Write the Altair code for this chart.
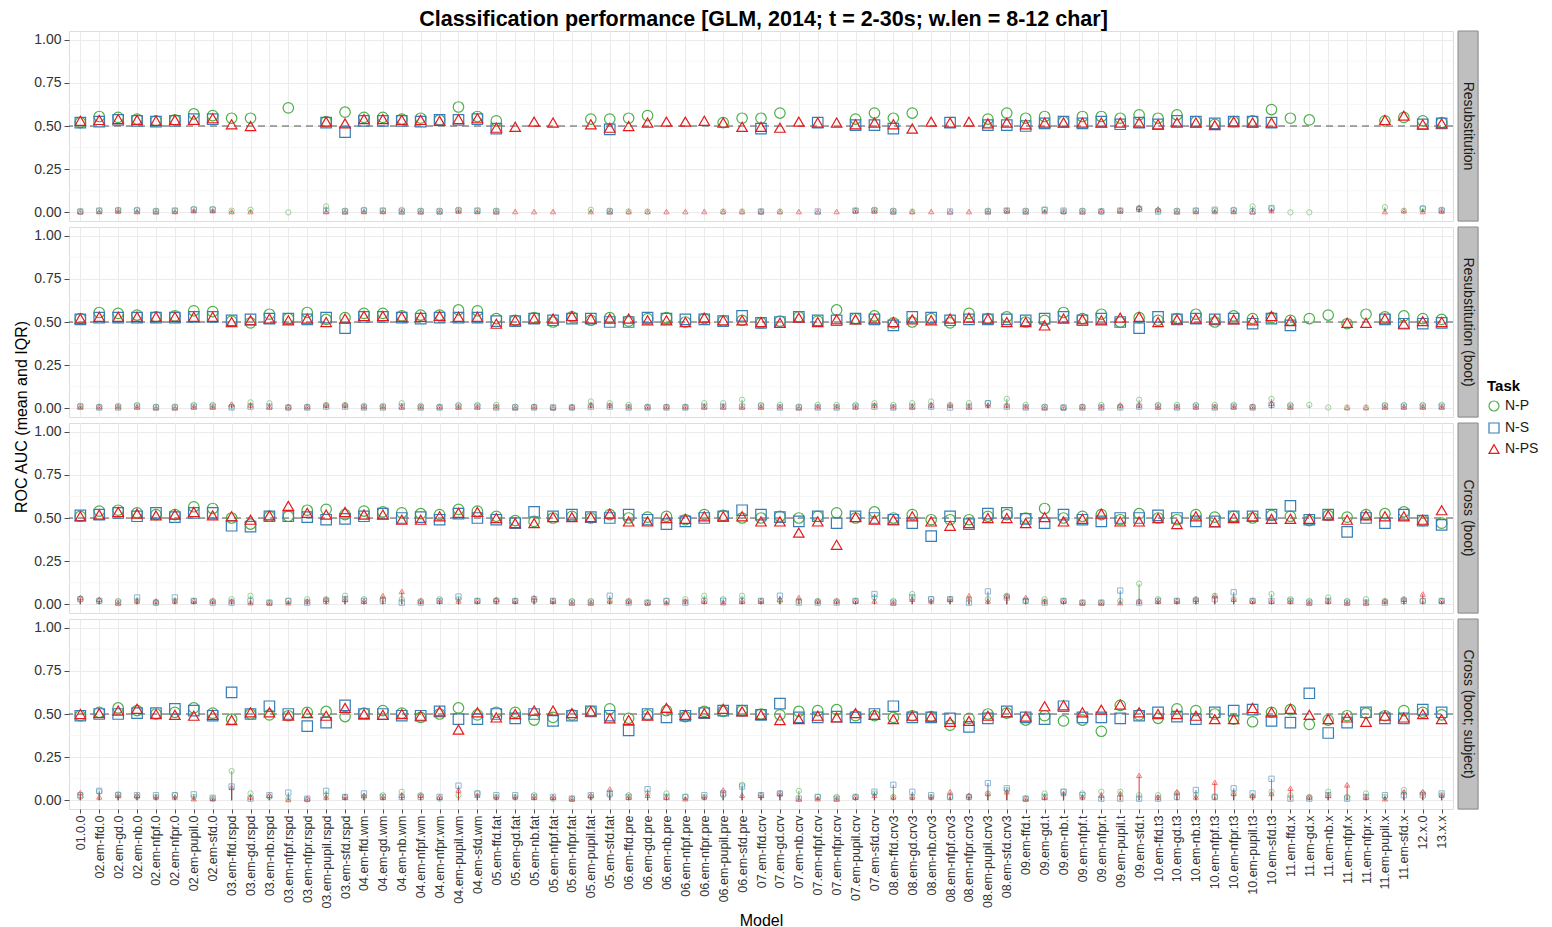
import altair as alt
import pandas as pd

models = [
    "01.0.0",
    "02.em-ffd.0", "02.em-gd.0", "02.em-nb.0", "02.em-nfpf.0", "02.em-nfpr.0", "02.em-pupil.0", "02.em-sfd.0",
    "03.em-ffd.rspd", "03.em-gd.rspd", "03.em-nb.rspd", "03.em-nfpf.rspd", "03.em-nfpr.rspd", "03.em-pupil.rspd", "03.em-sfd.rspd",
    "04.em-ffd.wm", "04.em-gd.wm", "04.em-nb.wm", "04.em-nfpf.wm", "04.em-nfpr.wm", "04.em-pupil.wm", "04.em-sfd.wm",
    "05.em-ffd.fat", "05.em-gd.fat", "05.em-nb.fat", "05.em-nfpf.fat", "05.em-nfpr.fat", "05.em-pupil.fat", "05.em-sfd.fat",
    "06.em-ffd.pre", "06.em-gd.pre", "06.em-nb.pre", "06.em-nfpf.pre", "06.em-nfpr.pre", "06.em-pupil.pre", "06.em-sfd.pre",
    "07.em-ffd.crv", "07.em-gd.crv", "07.em-nb.crv", "07.em-nfpf.crv", "07.em-nfpr.crv", "07.em-pupil.crv", "07.em-sfd.crv",
    "08.em-ffd.crv3", "08.em-gd.crv3", "08.em-nb.crv3", "08.em-nfpf.crv3", "08.em-nfpr.crv3", "08.em-pupil.crv3", "08.em-sfd.crv3",
    "09.em-ffd.t", "09.em-gd.t", "09.em-nb.t", "09.em-nfpf.t", "09.em-nfpr.t", "09.em-pupil.t", "09.em-sfd.t",
    "10.em-ffd.t3", "10.em-gd.t3", "10.em-nb.t3", "10.em-nfpf.t3", "10.em-nfpr.t3", "10.em-pupil.t3", "10.em-sfd.t3",
    "11.em-ffd.x", "11.em-gd.x", "11.em-nb.x", "11.em-nfpf.x", "11.em-nfpr.x", "11.em-pupil.x", "11.em-sfd.x",
    "12.x.0", "13.x.x",
]
tasks = ["N-P", "N-S", "N-PS"]
panels = ["Resubstitution", "Resubstitution (boot)", "Cross (boot)", "Cross (boot; subject)"]
N = None

# ---- Resubstitution ----
p1_P = [0.52,0.555,0.55,0.54,0.53,0.535,0.57,0.56,0.545,0.545,N,0.605,N,0.525,0.58,0.55,0.55,0.54,0.545,0.535,0.61,0.555,0.53,N,N,N,N,0.54,0.54,0.545,0.56,N,N,N,0.52,0.545,0.545,0.575,N,N,N,0.54,0.575,0.545,0.575,N,N,N,0.54,0.575,0.545,0.555,0.525,0.555,0.555,0.545,0.565,0.545,0.565,0.525,0.51,0.525,0.53,0.595,0.545,0.535,N,N,N,0.53,0.55,0.53,0.52]
p1_S = [0.52,0.525,0.535,0.53,0.525,0.53,0.54,0.54,N,N,N,N,N,0.52,0.465,0.53,0.53,0.53,0.525,0.535,0.535,0.54,0.485,N,N,N,N,N,0.48,N,N,N,N,N,N,N,0.485,N,N,0.52,N,0.505,0.505,0.485,N,N,0.52,N,0.505,0.505,0.50,0.515,0.525,0.515,0.525,0.51,0.52,0.51,0.53,0.525,0.515,0.525,0.525,0.52,N,N,N,N,N,N,N,0.51,0.515]
p1_PS = [0.53,0.535,0.54,0.535,0.53,0.535,0.535,0.545,0.51,0.50,N,N,N,0.525,0.515,0.54,0.54,0.535,0.535,0.53,0.54,0.545,0.49,0.495,0.525,0.52,N,0.51,0.49,0.50,0.52,0.525,0.525,0.53,0.52,0.495,0.495,0.49,0.525,0.52,0.52,0.51,0.52,0.51,0.485,0.525,0.52,0.525,0.515,0.52,0.51,0.52,0.52,0.52,0.52,0.52,0.52,0.51,0.52,0.52,0.505,0.525,0.52,0.52,N,N,N,N,N,0.535,0.56,0.51,0.515]
p1_P_iqr = [0.005,0.01,0.015,0.015,0.01,0.01,0.02,0.02,0.01,0.015,0,0.0,0,0.035,0.01,0.015,0.01,0.015,0.01,0.01,0.015,0.01,0.01,0,0,0,0,0.015,0.01,0.005,0.005,0,0,0,0.005,0.005,0.005,0.005,0,0,0,0.01,0.015,0.01,0.005,0,0,0,0.01,0.01,0.01,0.015,0.005,0.01,0.005,0.01,0.02,0.01,0.01,0.01,0.01,0.015,0.035,0.02,0.0,0.0,0,0,0,0.03,0.01,0.025,0.015]
p1_S_iqr = [0.005,0.01,0.01,0.01,0.005,0.01,0.015,0.015,0,0,0,0,0,0.01,0.005,0.01,0.01,0.005,0.005,0.005,0.01,0.01,0.005,0,0,0,0,0,0.005,0,0,0,0,0,0,0,0.005,0,0,0.005,0,0.01,0.01,0.005,0,0,0.005,0,0.005,0.01,0.005,0.015,0.01,0.005,0.005,0.01,0.02,0.005,0.005,0.01,0.015,0.01,0.005,0.025,0,0,0,0,0,0,0,0.02,0.01]
p1_PS_iqr = [0.005,0.005,0.01,0.005,0.005,0.005,0.01,0.01,0.005,0.005,0,0,0,0.005,0.005,0.005,0.005,0.005,0.005,0.005,0.01,0.005,0.005,0.005,0.005,0.005,0,0.005,0.005,0.005,0.005,0.005,0.005,0.005,0.005,0.005,0.005,0.005,0.005,0.005,0.005,0.01,0.01,0.005,0.005,0.005,0.005,0.005,0.005,0.01,0.005,0.005,0.005,0.005,0.01,0.01,0.03,0.02,0.005,0.005,0.005,0.005,0.005,0.01,0,0,0,0,0,0.005,0.01,0.005,0.01]

# ---- Resubstitution (boot) ----
p2_P = [0.52,0.555,0.55,0.54,0.53,0.535,0.565,0.56,0.505,0.495,0.545,0.52,0.555,0.515,0.525,0.55,0.55,0.535,0.54,0.54,0.57,0.565,0.52,0.51,0.525,0.50,0.53,0.51,0.525,0.505,0.52,0.525,0.50,0.52,0.505,0.51,0.495,0.505,0.53,0.505,0.57,0.52,0.535,0.495,0.50,0.52,0.495,0.55,0.52,0.53,0.50,0.51,0.555,0.52,0.545,0.50,0.525,0.51,0.52,0.545,0.50,0.535,0.52,0.525,0.51,0.52,0.54,0.49,0.545,0.53,0.535,0.52,0.515]
p2_S = [0.515,0.525,0.525,0.525,0.525,0.525,0.53,0.53,0.51,0.515,0.52,0.52,0.515,0.525,0.465,0.53,0.53,0.525,0.52,0.525,0.525,0.525,0.505,0.505,0.52,0.51,0.52,0.52,0.50,0.50,0.525,0.52,0.515,0.515,0.505,0.535,0.495,0.50,0.53,0.51,0.51,0.52,0.515,0.48,0.53,0.525,0.51,0.515,0.515,0.515,0.51,0.52,0.53,0.51,0.52,0.50,0.465,0.53,0.515,0.52,0.515,0.52,0.49,0.52,0.48,N,N,N,N,0.515,0.49,0.49,0.495]
p2_PS = [0.52,0.53,0.53,0.53,0.53,0.53,0.53,0.53,0.50,0.51,0.52,0.51,0.52,0.50,0.52,0.535,0.535,0.53,0.53,0.535,0.53,0.53,0.49,0.51,0.52,0.52,0.535,0.52,0.52,0.52,0.51,0.51,0.50,0.525,0.51,0.51,0.50,0.495,0.525,0.50,0.515,0.515,0.52,0.50,0.515,0.51,0.52,0.525,0.52,0.50,0.50,0.48,0.52,0.515,0.51,0.525,0.53,0.50,0.515,0.52,0.515,0.515,0.51,0.535,0.505,N,N,0.495,0.495,0.52,0.49,0.505,0.50]
p2_P_iqr = [0.015,0.01,0.015,0.02,0.01,0.01,0.02,0.02,0.01,0.035,0.03,0.005,0.01,0.02,0.02,0.015,0.015,0.03,0.015,0.01,0.02,0.02,0.02,0.01,0.01,0.005,0.005,0.04,0.03,0.02,0.01,0.01,0.01,0.03,0.03,0.05,0.02,0.02,0.01,0.02,0.02,0.02,0.03,0.02,0.03,0.04,0.02,0.03,0.03,0.055,0.02,0.01,0.005,0.01,0.02,0.01,0.05,0.02,0.02,0.02,0.02,0.02,0.01,0.055,0.02,0.02,0.005,0.005,0.005,0.02,0.02,0.02,0.02]
p2_S_iqr = [0.01,0.005,0.005,0.01,0.005,0.005,0.01,0.01,0.005,0.01,0.01,0.005,0.005,0.01,0.01,0.005,0.005,0.01,0.005,0.005,0.01,0.01,0.005,0.005,0.005,0.005,0.005,0.01,0.01,0.005,0.005,0.005,0.005,0.01,0.01,0.01,0.01,0.005,0.005,0.005,0.005,0.01,0.01,0.005,0.01,0.01,0.005,0.01,0.03,0.01,0.005,0.005,0.005,0.005,0.005,0.005,0.01,0.01,0.005,0.01,0.005,0.01,0.005,0.02,0.01,0,0,0,0,0.01,0.01,0.01,0.01]
p2_PS_iqr = [0.01,0.01,0.01,0.01,0.005,0.005,0.01,0.01,0.025,0.02,0.01,0.01,0.01,0.02,0.02,0.01,0.01,0.01,0.01,0.01,0.01,0.01,0.01,0.005,0.01,0.005,0.01,0.02,0.02,0.01,0.01,0.01,0.01,0.01,0.01,0.01,0.01,0.01,0.005,0.01,0.01,0.01,0.02,0.01,0.01,0.02,0.02,0.01,0.02,0.02,0.01,0.005,0.005,0.01,0.01,0.02,0.02,0.01,0.01,0.01,0.01,0.01,0.01,0.03,0.01,0,0,0.005,0.005,0.01,0.01,0.01,0.01]

# ---- Cross (boot) ----
p3_P = [0.51,0.54,0.545,0.53,0.52,0.52,0.565,0.555,0.50,0.465,0.51,0.51,0.545,0.55,0.52,0.54,0.535,0.53,0.525,0.52,0.55,0.54,0.51,0.485,0.48,0.50,0.51,0.50,0.52,0.50,0.505,0.51,0.49,0.52,0.515,0.50,0.50,0.51,0.50,0.51,0.53,0.50,0.535,0.50,0.52,0.49,0.49,0.49,0.51,0.52,0.50,0.555,0.50,0.51,0.52,0.49,0.525,0.50,0.49,0.52,0.505,0.51,0.50,0.515,0.51,0.485,0.515,0.505,0.52,0.525,0.535,0.485,0.47]
p3_S = [0.515,0.52,0.53,0.51,0.53,0.505,0.53,0.53,0.455,0.45,0.51,0.51,0.505,0.49,0.495,0.51,0.525,0.50,0.505,0.49,0.525,0.50,0.49,0.47,0.535,0.51,0.52,0.505,0.50,0.52,0.49,0.465,0.48,0.50,0.51,0.545,0.52,0.505,0.48,0.51,0.47,0.51,0.50,0.49,0.47,0.395,0.51,0.465,0.525,0.53,0.495,0.47,0.52,0.49,0.48,0.50,0.50,0.515,0.50,0.48,0.48,0.51,0.51,0.52,0.57,0.49,0.52,0.42,0.50,0.47,0.52,0.485,0.46]
p3_PS = [0.51,0.52,0.535,0.525,0.515,0.52,0.535,0.515,0.51,0.49,0.515,0.57,0.53,0.52,0.535,0.52,0.52,0.49,0.49,0.51,0.53,0.535,0.50,0.47,0.47,0.505,0.505,0.505,0.525,0.48,0.48,0.50,0.495,0.51,0.51,0.51,0.48,0.48,0.415,0.48,0.345,0.505,0.49,0.49,0.51,0.48,0.455,0.47,0.50,0.50,0.47,0.505,0.48,0.495,0.525,0.48,0.48,0.50,0.465,0.51,0.475,0.50,0.51,0.495,0.495,0.495,0.515,0.49,0.515,0.51,0.51,0.49,0.545]
p3_P_iqr = [0.03,0.02,0.02,0.02,0.01,0.02,0.02,0.02,0.03,0.05,0.01,0.02,0.03,0.03,0.05,0.03,0.03,0.03,0.02,0.03,0.03,0.02,0.02,0.02,0.02,0.02,0.02,0.02,0.02,0.02,0.01,0.02,0.03,0.05,0.03,0.05,0.02,0.02,0.02,0.02,0.02,0.02,0.04,0.02,0.06,0.03,0.03,0.03,0.03,0.05,0.02,0.03,0.02,0.01,0.01,0.02,0.12,0.03,0.02,0.03,0.05,0.03,0.02,0.06,0.03,0.02,0.04,0.02,0.03,0.02,0.03,0.02,0.02]
p3_S_iqr = [0.03,0.02,0.01,0.04,0.01,0.04,0.02,0.01,0.01,0.02,0.01,0.02,0.01,0.02,0.03,0.02,0.02,0.01,0.01,0.02,0.045,0.02,0.02,0.02,0.03,0.02,0.01,0.01,0.05,0.01,0.01,0.02,0.01,0.02,0.02,0.02,0.02,0.05,0.01,0.01,0.01,0.02,0.06,0.01,0.04,0.03,0.03,0.01,0.075,0.04,0.02,0.01,0.02,0.01,0.01,0.08,0.01,0.02,0.02,0.02,0.03,0.07,0.02,0.02,0.02,0.01,0.02,0.01,0.01,0.01,0.02,0.02,0.02]
p3_PS_iqr = [0.04,0.03,0.01,0.02,0.02,0.02,0.02,0.02,0.02,0.01,0.01,0.01,0.02,0.03,0.03,0.02,0.05,0.075,0.02,0.02,0.02,0.02,0.03,0.02,0.04,0.02,0.01,0.01,0.02,0.02,0.01,0.01,0.02,0.02,0.01,0.02,0.02,0.03,0.04,0.02,0.02,0.02,0.02,0.01,0.03,0.02,0.03,0.05,0.02,0.05,0.04,0.02,0.02,0.01,0.01,0.01,0.02,0.02,0.02,0.03,0.05,0.03,0.02,0.02,0.02,0.01,0.02,0.01,0.01,0.02,0.03,0.06,0.02]

# ---- Cross (boot; subject) ----
p4_P = [0.49,0.51,0.535,0.52,0.50,0.51,0.535,0.505,0.47,0.50,0.495,0.49,0.51,0.515,0.485,0.505,0.52,0.505,0.48,0.50,0.535,0.495,0.51,0.51,0.465,0.48,0.495,0.515,0.53,0.475,0.495,0.52,0.485,0.515,0.515,0.52,0.50,0.495,0.515,0.52,0.525,0.49,0.49,0.48,0.49,0.485,0.435,0.475,0.50,0.505,0.465,0.49,0.46,0.465,0.40,0.55,0.495,0.475,0.53,0.52,0.50,0.47,0.455,0.51,0.525,0.44,0.465,0.49,0.505,0.49,0.52,0.51,0.495]
p4_S = [0.49,0.50,0.50,0.505,0.505,0.53,0.52,0.49,0.625,0.50,0.545,0.50,0.43,0.45,0.55,0.50,0.50,0.49,0.49,0.515,0.47,0.47,0.50,0.475,0.50,0.46,0.49,0.515,0.49,0.405,0.50,0.48,0.49,0.505,0.52,0.52,0.495,0.56,0.48,0.48,0.485,0.48,0.50,0.545,0.48,0.48,0.475,0.425,0.475,0.515,0.48,0.47,0.545,0.48,0.48,0.475,0.49,0.51,0.485,0.47,0.51,0.52,0.525,0.46,0.45,0.62,0.39,0.45,0.51,0.475,0.475,0.525,0.51]
p4_PS = [0.50,0.505,0.52,0.53,0.50,0.495,0.49,0.495,0.465,0.51,0.51,0.49,0.505,0.49,0.535,0.50,0.495,0.50,0.49,0.515,0.41,0.51,0.48,0.50,0.52,0.52,0.505,0.515,0.475,0.465,0.49,0.535,0.495,0.505,0.53,0.515,0.495,0.465,0.47,0.49,0.48,0.505,0.495,0.47,0.49,0.485,0.455,0.46,0.49,0.51,0.485,0.545,0.55,0.51,0.525,0.555,0.51,0.50,0.50,0.49,0.47,0.47,0.535,0.51,0.53,0.495,0.47,0.48,0.455,0.49,0.48,0.50,0.47]
p4_P_iqr = [0.02,0.05,0.035,0.02,0.02,0.03,0.02,0.01,0.17,0.04,0.02,0.01,0.005,0.03,0.02,0.02,0.03,0.05,0.03,0.01,0.03,0.04,0.02,0.02,0.03,0.01,0.01,0.02,0.03,0.03,0.04,0.04,0.02,0.02,0.03,0.09,0.03,0.04,0.055,0.02,0.02,0.02,0.04,0.02,0.02,0.02,0.02,0.02,0.04,0.06,0.01,0.04,0.05,0.04,0.05,0.05,0.03,0.03,0.04,0.03,0.02,0.04,0.02,0.05,0.03,0.02,0.05,0.02,0.04,0.02,0.06,0.04,0.03]
p4_S_iqr = [0.03,0.055,0.03,0.03,0.03,0.03,0.035,0.015,0.08,0.01,0.03,0.045,0.01,0.055,0.02,0.04,0.02,0.02,0.02,0.02,0.085,0.04,0.03,0.03,0.02,0.02,0.01,0.03,0.04,0.02,0.065,0.02,0.02,0.03,0.04,0.08,0.03,0.04,0.01,0.02,0.01,0.02,0.05,0.09,0.05,0.03,0.02,0.02,0.1,0.07,0.01,0.02,0.05,0.03,0.01,0.01,0.01,0.01,0.02,0.06,0.02,0.07,0.04,0.125,0.01,0.01,0.03,0.01,0.02,0.03,0.03,0.03,0.04]
p4_PS_iqr = [0.045,0.02,0.03,0.03,0.02,0.02,0.01,0.01,0.075,0.02,0.03,0.005,0.01,0.02,0.02,0.03,0.02,0.03,0.03,0.02,0.06,0.03,0.02,0.02,0.02,0.02,0.01,0.03,0.065,0.02,0.03,0.02,0.01,0.02,0.06,0.03,0.03,0.04,0.01,0.01,0.01,0.02,0.03,0.02,0.02,0.02,0.05,0.03,0.04,0.05,0.01,0.02,0.04,0.02,0.03,0.04,0.145,0.02,0.05,0.02,0.105,0.04,0.03,0.04,0.07,0.02,0.03,0.09,0.02,0.01,0.05,0.05,0.03]

means = {
    panels[0]: [p1_P, p1_S, p1_PS],
    panels[1]: [p2_P, p2_S, p2_PS],
    panels[2]: [p3_P, p3_S, p3_PS],
    panels[3]: [p4_P, p4_S, p4_PS],
}
iqrs = {
    panels[0]: [p1_P_iqr, p1_S_iqr, p1_PS_iqr],
    panels[1]: [p2_P_iqr, p2_S_iqr, p2_PS_iqr],
    panels[2]: [p3_P_iqr, p3_S_iqr, p3_PS_iqr],
    panels[3]: [p4_P_iqr, p4_S_iqr, p4_PS_iqr],
}

rows = []
for panel in panels:
    for ti, task in enumerate(tasks):
        m = means[panel][ti]
        q = iqrs[panel][ti]
        for i, model in enumerate(models):
            if m[i] is None:
                continue
            rows.append({"panel": panel, "task": task, "model": model,
                         "mean": m[i], "iqr": q[i], "zero": 0.0})
df = pd.DataFrame(rows)

minor_df = pd.DataFrame({"v": [0.125, 0.375, 0.625, 0.875]})
ref_df = pd.DataFrame({"v": [0.5]})

FONT = "Liberation Sans"
W, H, GAP = 1384, 190, 4
colors = ["#4DAF4A", "#377EB8", "#E41A1C"]
shapes = ["circle", "square", "triangle-up"]

yscale = alt.Scale(domain=[-0.05, 1.05], nice=False, zero=False)
xscale = alt.Scale(type="point", padding=0.6, domain=models)
color_scale = alt.Scale(domain=tasks, range=colors)
shape_scale = alt.Scale(domain=tasks, range=shapes)

legend = alt.Legend(title="Task", orient="none", legendX=1479, legendY=348,
                    titleFontSize=15, titleFontWeight="bold", labelFontSize=14,
                    symbolSize=100, symbolStrokeWidth=1.2, rowPadding=6, symbolOpacity=1,
                    titleColor="#000000", labelColor="#1A1A1A", titleFont=FONT, labelFont=FONT)

color_enc = alt.Color("task:N", scale=color_scale, legend=legend)
shape_enc = alt.Shape("task:N", scale=shape_scale, legend=legend)


def make_panel(idx):
    panel = panels[idx]
    d = df[df.panel == panel]
    bottom = idx == len(panels) - 1
    if bottom:
        xaxis = alt.Axis(labelAngle=-90, labelFontSize=12.5, labelColor="#333333", labelAlign="right",
                         labelBaseline="middle", title="Model", titleFontSize=16,
                         titleFontWeight="normal", titleColor="#000000", titlePadding=4,
                         grid=True, gridColor="#EBEBEB", tickColor="#4D4D4D", tickSize=4,
                         domain=False, labelPadding=2, labelFont=FONT, titleFont=FONT)
    else:
        xaxis = alt.Axis(labels=False, ticks=False, title=None, grid=True,
                         gridColor="#EBEBEB", domain=False)
    yaxis = alt.Axis(title=None, values=[0, 0.25, 0.5, 0.75, 1.0], format=".2f", grid=True,
                     gridColor="#EBEBEB", domain=False, tickColor="#4D4D4D", tickSize=5,
                     labelFontSize=14, labelColor="#333333", labelFont=FONT, labelPadding=3)

    xenc = alt.X("model:N", scale=xscale, sort=models, axis=xaxis)

    minor = alt.Chart(minor_df).mark_rule(color="#F4F4F4", strokeWidth=0.7).encode(
        y=alt.Y("v:Q", scale=yscale, axis=yaxis))
    ref = alt.Chart(ref_df).mark_rule(color="#555555", strokeDash=[7, 5], strokeWidth=1.2).encode(
        y=alt.Y("v:Q", scale=yscale, axis=yaxis))
    base = alt.Chart(d)
    iqr_rule = base.mark_rule(strokeWidth=1.1, opacity=0.75).encode(
        x=xenc,
        y=alt.Y("zero:Q", scale=yscale, axis=yaxis),
        y2="iqr:Q",
        color=color_enc,
    )
    iqr_pts = base.mark_point(size=28, strokeWidth=1, opacity=0.55, filled=False).encode(
        x=xenc,
        y=alt.Y("iqr:Q", scale=yscale, axis=yaxis),
        color=color_enc,
        shape=shape_enc,
    )
    mean_pts = base.mark_point(size=110, strokeWidth=1.2, opacity=1, filled=False).encode(
        x=xenc,
        y=alt.Y("mean:Q", scale=yscale, axis=yaxis),
        color=color_enc,
        shape=shape_enc,
    )
    plot = alt.layer(minor, ref, iqr_rule, iqr_pts, mean_pts).properties(width=W, height=H)

    strip_df = pd.DataFrame({"label": [panel]})
    strip_bg = alt.Chart(strip_df).mark_rect(color="#BFBFBF", stroke="#8C8C8C", strokeWidth=1).encode(
        x=alt.value(0), x2=alt.value(20), y=alt.value(0), y2=alt.value(H))
    strip_txt = alt.Chart(strip_df).mark_text(angle=90, fontSize=14, color="#1A1A1A", font=FONT,
                                               align="center", baseline="middle").encode(
        x=alt.value(10), y=alt.value(H / 2), text="label:N")
    strip = alt.layer(strip_bg, strip_txt).properties(width=20, height=H)
    return alt.hconcat(plot, strip, spacing=2)


block = alt.vconcat(*[make_panel(i) for i in range(len(panels))], spacing=GAP)

block_h = len(panels) * H + (len(panels) - 1) * GAP
ytitle = alt.Chart(pd.DataFrame({"t": ["ROC AUC (mean and IQR)"]})).mark_text(
    angle=270, fontSize=16, color="#000000", font=FONT, align="center", baseline="middle"
).encode(x=alt.value(14), y=alt.value(block_h / 2), text="t:N").properties(
    width=20, height=block_h, view=alt.ViewBackground(strokeOpacity=0))

chart = alt.hconcat(ytitle, block, spacing=3).resolve_scale(
    color="shared", shape="shared"
).properties(
    title=alt.TitleParams("Classification performance [GLM, 2014; t = 2-30s; w.len = 8-12 char]",
                          fontSize=21.5, fontWeight="bold", anchor="middle", font=FONT,
                          color="#000000", offset=0, dx=-10),
    padding={"left": 0, "right": 0, "top": 0, "bottom": 0},
).configure_view(stroke="#8C8C8C", strokeWidth=1).configure(font=FONT, background="white")

chart.save("out.html", embed_options={"renderer": "svg", "actions": False})
